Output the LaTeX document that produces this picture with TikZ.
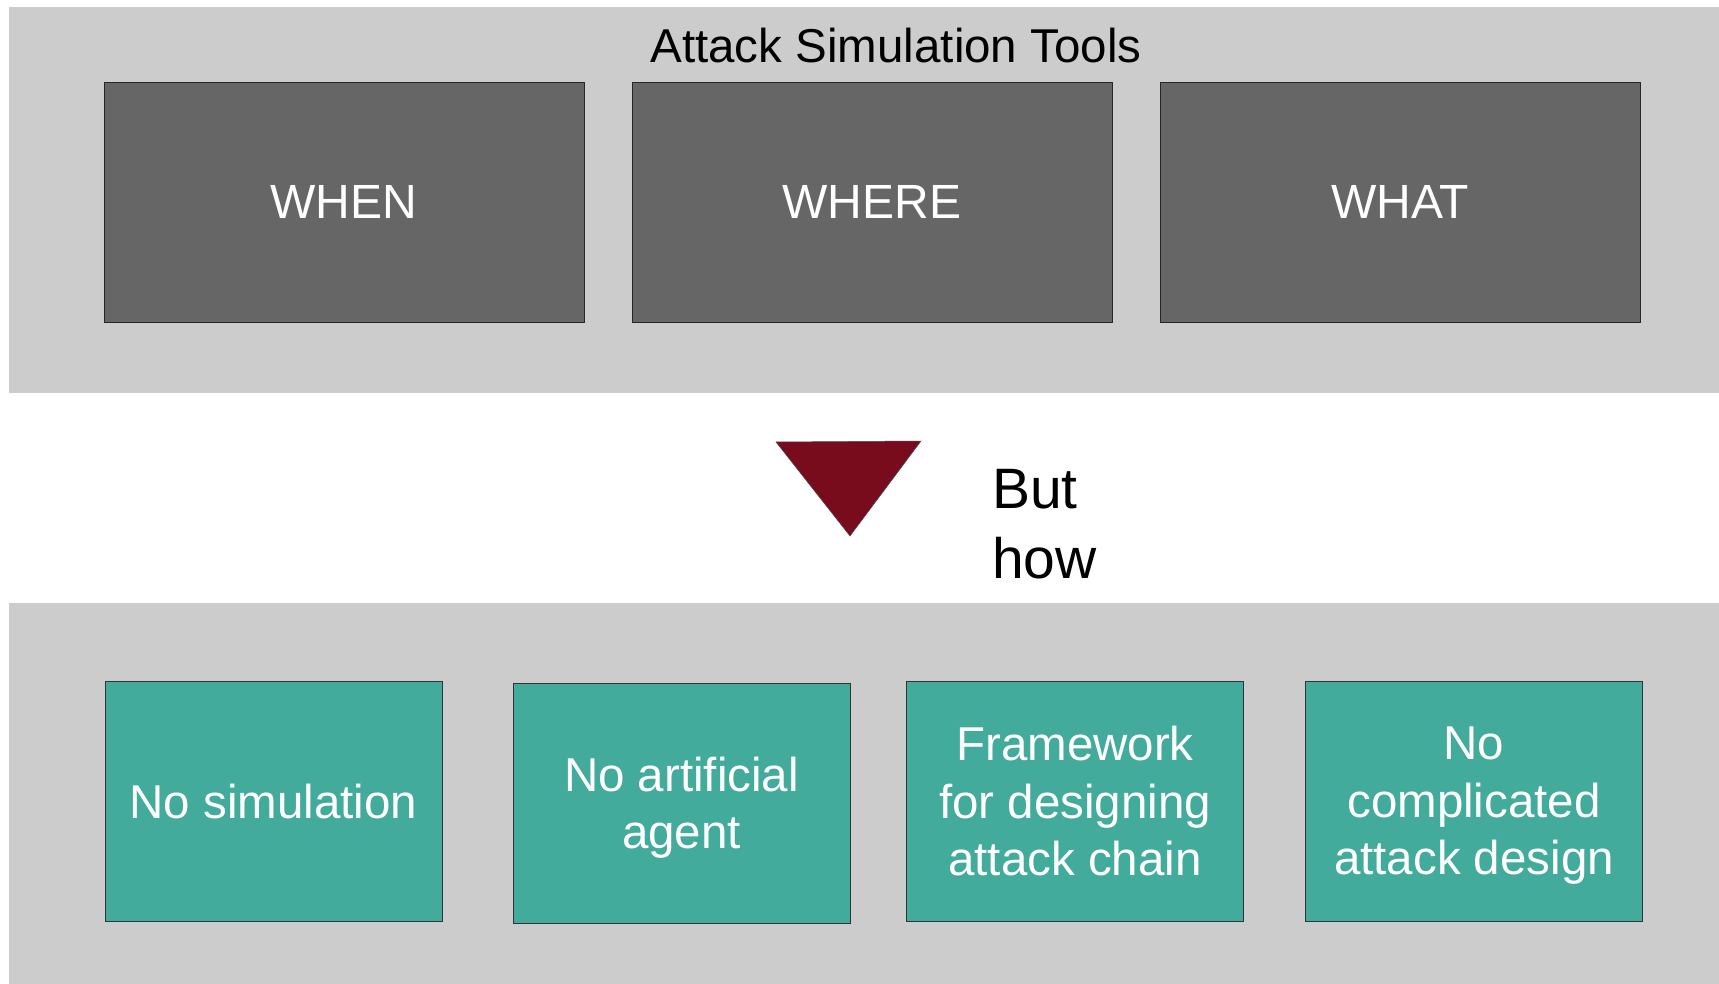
\documentclass[tikz,border=0pt]{standalone}
\usepackage{fontspec}
\setmainfont{Liberation Sans}
\definecolor{bandgrey}{RGB}{204,204,204}
\definecolor{boxgrey}{RGB}{102,102,102}
\definecolor{tealfill}{RGB}{66,171,156}
\definecolor{wine}{RGB}{121,12,28}
\begin{document}
\begin{tikzpicture}[x=1pt,y=-1pt,
  band/.style={fill=bandgrey, draw=none},
  toolbox/.style={draw=black!85, line width=0.9pt, fill=boxgrey, text=white,
    minimum width=480pt, minimum height=240pt, inner sep=0pt,
    font=\fontsize{48}{56}\selectfont},
  gapbox/.style={draw=black!80, line width=0.9pt, fill=tealfill, text=white,
    minimum width=337pt, minimum height=240pt, inner sep=0pt, align=center,
    text depth=0pt, font=\fontsize{47.5}{57.5}\selectfont},
  label/.style={text=black, inner sep=0pt}
]
\useasboundingbox (0,0) rectangle (1719,984);
\fill[white] (0,0) rectangle (1719,984);

% grey background bands
\path[band] (9,7) rectangle (1719,393);
\path[band] (9,603) rectangle (1719,984);

% upper band: tool categories
\node[label, anchor=base, font=\fontsize{47.5}{56}\selectfont] (title) at (896,63) {Attack Simulation Tools};
\node[toolbox] (when)  at (344,202)  {WHEN};
\node[toolbox] (where) at (872,202)  {WHERE};
\node[toolbox] (what)  at (1400,202) {WHAT};

% downward marker with question
\draw[fill=wine, draw=black!70, line width=0.5pt] (776,442) -- (921,441) -- (850,536) -- cycle;
\node[label, anchor=base west, align=left, font=\fontsize{57}{70}\selectfont] (buthow) at (992,578) {But\\how};

% lower band: gaps
\node[gapbox] (nosim)    at (273.5,801) {No simulation};
\node[gapbox] (noagent)  at (681.5,803) {No artificial\\agent};
\node[gapbox] (framework) at (1075,801) {Framework\\for designing\\attack chain};
\node[gapbox] (nodesign) at (1474,801) {No\\complicated\\attack design};
\end{tikzpicture}
\end{document}
